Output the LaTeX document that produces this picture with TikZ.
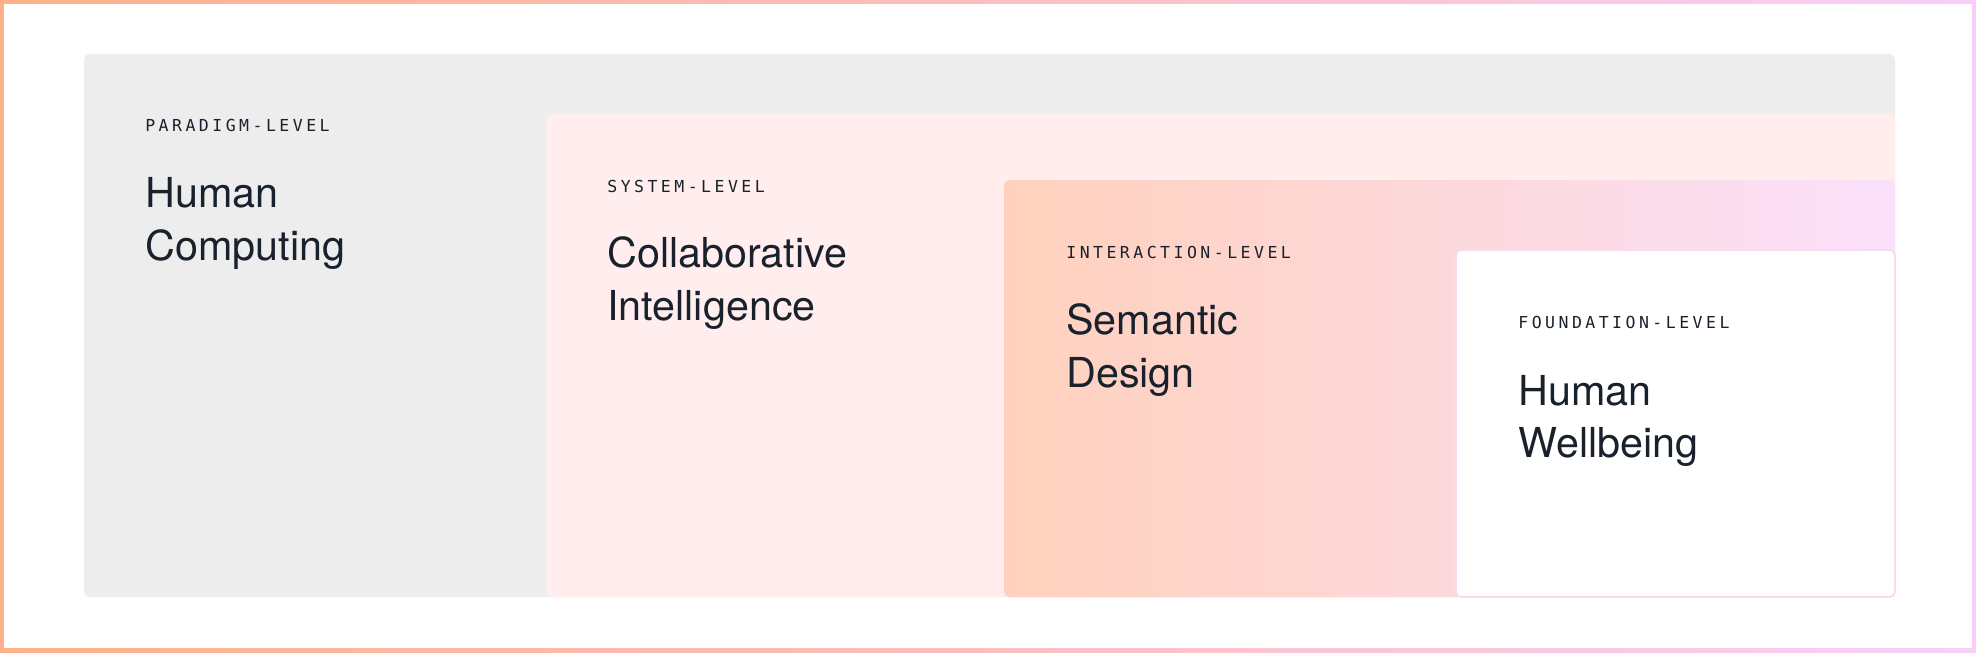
\documentclass[tikz,border=0pt]{standalone}
\usepackage{fontspec}
\setmainfont{TeX Gyre Heros}
\newfontfamily\levelfont[LetterSpace=21]{DejaVu Sans Mono}
\usetikzlibrary{positioning}

\definecolor{frameL}{HTML}{FFB08A}
\definecolor{frameR}{HTML}{F8CFF8}
\definecolor{paradigmfill}{HTML}{ECEDEC}
\definecolor{systemfill}{HTML}{FFEEED}
\definecolor{interL}{HTML}{FFD1BD}
\definecolor{interR}{HTML}{FAE0FA}
\definecolor{fndline}{HTML}{FADAF3}
\definecolor{ink}{HTML}{18212C}

\tikzset{
  panel/.style={rounded corners=3pt},
  levellabel/.style={anchor=base west, inner sep=0pt, text=ink,
    font=\levelfont\fontsize{9.4}{11}\selectfont},
  leveltitle/.style={anchor=base west, inner sep=0pt, align=left, text=ink,
    font=\fontsize{23.5}{29.6}\selectfont}
}

\begin{document}
\begin{tikzpicture}[x=0.02cm,y=-0.02cm]

\useasboundingbox (0,0) rectangle (1976,652);
\shade[left color=frameL, right color=frameR] (0,0) rectangle (1976,652);
\fill[white] (4,4) rectangle (1972,648);

\fill[panel, paradigmfill] (84,54) rectangle (1895,597);
\fill[panel, systemfill] (546,114) rectangle (1895,597);
\shade[panel, left color=interL, right color=interR] (1004,180) rectangle (1895,597);
\filldraw[panel, fill=white, draw=fndline, line width=1pt] (1456,250) rectangle (1895,597);

\node[levellabel] (paradigm) at (145,132) {PARADIGM-LEVEL};
\node[leveltitle] (computing) at (145,260) {Human\\Computing};

\node[levellabel] (system) at (607,192) {SYSTEM-LEVEL};
\node[leveltitle] (collab) at (607,320) {Collaborative\\Intelligence};

\node[levellabel] (interaction) at (1066,258) {INTERACTION-LEVEL};
\node[leveltitle] (semantic) at (1066,387) {Semantic\\Design};

\node[levellabel] (foundation) at (1518,328) {FOUNDATION-LEVEL};
\node[leveltitle] (wellbeing) at (1518,457) {Human\\Wellbeing};

\end{tikzpicture}
\end{document}
